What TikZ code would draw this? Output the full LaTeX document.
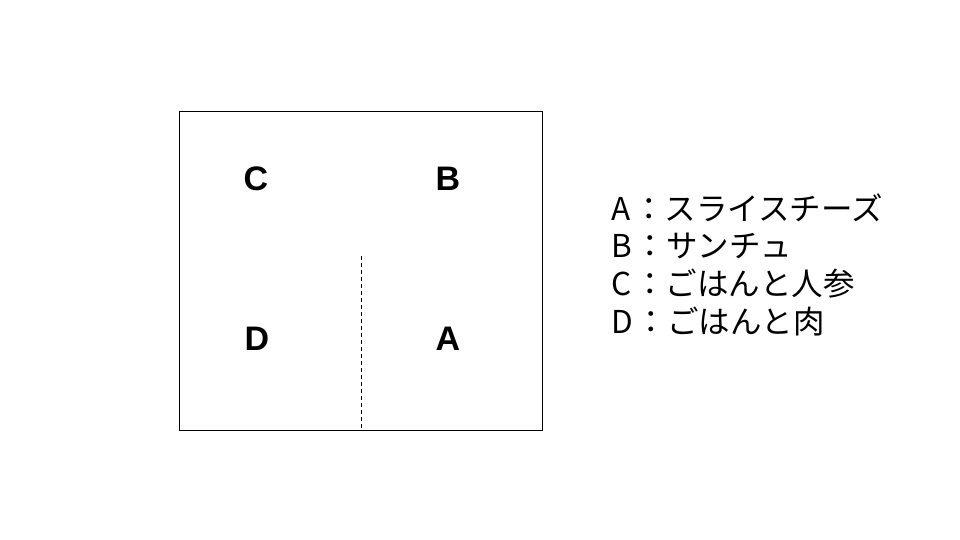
\documentclass[tikz,border=0pt]{standalone}
\usepackage{fontspec}
\setmainfont{Liberation Sans}
\newfontfamily\jpfont{Noto Sans CJK JP}
\begin{document}
\begin{tikzpicture}[x=1pt,y=-1pt,
  box/.style={draw=black,line width=1pt},
  divider/.style={draw=black,line width=1.2pt,dash pattern=on 4pt off 3pt},
  cell/.style={font=\fontsize{34}{34}\selectfont\bfseries,inner sep=0pt,anchor=base},
  legend/.style={font=\jpfont\fontsize{31.5}{31.5}\selectfont,inner sep=0pt,anchor=base west}]
\useasboundingbox[fill=white] (0,0) rectangle (960,540);
\node[box,minimum width=363pt,minimum height=318pt,inner sep=0pt,anchor=north west] (frame) at (178.5,111.5) {};
\coordinate (dtop) at (361.5,256);
\coordinate (dbot) at (361.5,429.5);
\draw[divider] (dtop) -- (dbot);
\node[cell] (C) at (256,190) {C};
\node[cell] (B) at (448,190) {B};
\node[cell] (D) at (257,350) {D};
\node[cell] (A) at (448,350) {A};
\node[legend] (la) at (611,220) {A\hspace{3pt}：スライスチーズ};
\node[legend] (lb) at (611,257) {B\hspace{3pt}：サンチュ};
\node[legend] (lc) at (611,295) {C\hspace{3pt}：ごはんと人参};
\node[legend] (ld) at (611,333) {D\hspace{3pt}：ごはんと肉};
\end{tikzpicture}
\end{document}
